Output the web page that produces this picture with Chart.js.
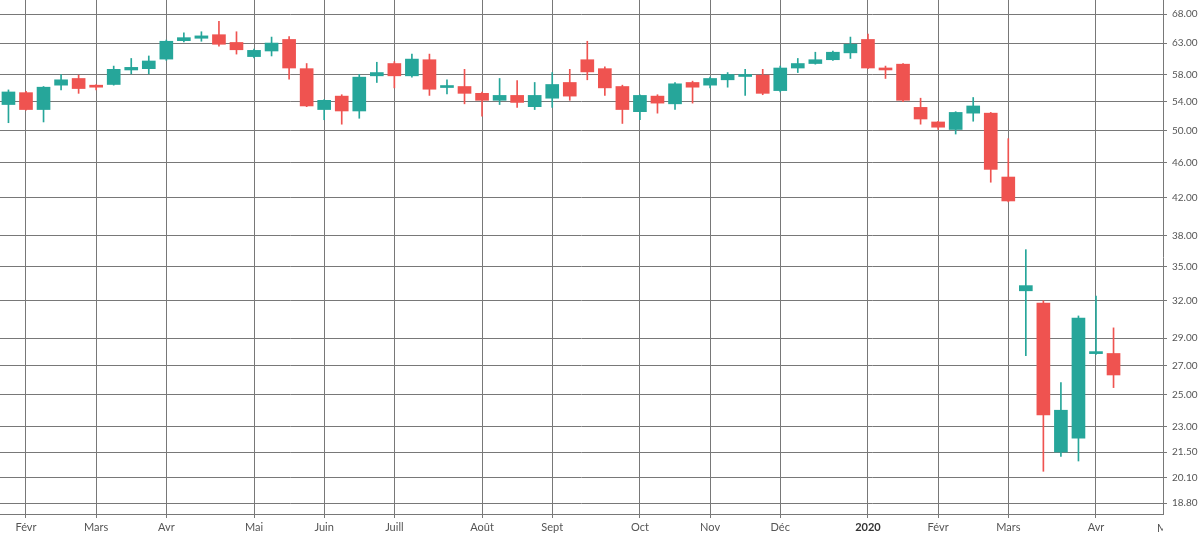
<!DOCTYPE html>
<html lang="fr">
<head>
<meta charset="utf-8">
<title>Cours hebdomadaire</title>
<script src="https://cdn.jsdelivr.net/npm/chart.js@4.4.1/dist/chart.umd.min.js"></script>
<style>
  html, body { margin: 0; padding: 0; background: #ffffff; }
  #wrap { width: 1200px; height: 536px; position: relative; }
</style>
</head>
<body>
<div id="wrap"><canvas id="chart"></canvas></div>
<script>
// Bougies hebdomadaires, semaine 0 = 28 janv. 2019, dernière = 13 avr. 2020.
const opens = [
  53.6, 55.3, 52.9, 56.4, 57.4, 56.3, 56.5, 58.7, 58.9, 60.4,
  63.4, 63.8, 64.4, 63.1, 60.8, 61.7, 63.6, 58.9, 52.9, 54.8,
  52.7, 57.8, 59.7, 57.8, 60.3, 56.05, 56.2, 55.2, 54.2, 54.9,
  53.3, 54.5, 56.8, 60.3, 58.9, 56.2, 52.6, 54.8, 53.7, 56.8,
  56.4, 57.2, 57.7, 57.9, 55.6, 59.0, 59.7, 60.3, 61.4, 63.6,
  58.9, 59.6, 53.2, 51.2, 50.2, 52.4, 52.4, 44.3, 32.85, 31.8,
  21.5, 22.3, 27.85, 27.86
];
const highs = [
  55.7, 55.5, 56.2, 58.0, 57.9, 56.5, 59.3, 60.5, 60.9, 63.5,
  64.7, 64.9, 66.7, 64.9, 62.0, 64.0, 64.1, 59.7, 54.3, 55.0,
  58.0, 59.9, 60.0, 61.2, 61.2, 57.2, 58.8, 55.4, 57.4, 57.1,
  56.8, 58.3, 58.8, 63.3, 59.2, 56.4, 55.0, 55.0, 56.8, 57.0,
  57.6, 58.3, 58.8, 58.8, 59.3, 60.5, 61.5, 61.7, 64.0, 64.5,
  59.3, 59.7, 54.5, 51.3, 52.6, 54.6, 52.5, 49.0, 36.6, 32.0,
  25.8, 30.75, 32.4, 29.8
];
const lows = [
  51.1, 52.8, 51.2, 55.7, 55.2, 55.7, 56.4, 58.1, 58.1, 60.2,
  63.2, 63.3, 62.5, 61.2, 60.6, 60.9, 57.3, 53.3, 51.5, 50.9,
  51.7, 56.8, 56.0, 57.6, 54.9, 55.1, 53.7, 52.0, 53.6, 53.2,
  52.9, 53.2, 54.2, 57.2, 54.9, 51.0, 51.5, 52.4, 52.9, 53.8,
  56.0, 56.1, 54.9, 55.0, 55.4, 58.3, 59.6, 60.2, 60.5, 58.9,
  57.4, 54.0, 50.9, 50.2, 49.6, 51.3, 43.7, 41.5, 27.7, 20.44,
  21.26, 21.0, 27.8, 25.47
];
const closes = [
  55.4, 52.9, 56.1, 57.2, 55.9, 56.1, 58.8, 59.1, 60.1, 63.3,
  63.9, 64.2, 62.8, 61.9, 61.8, 63.0, 59.0, 53.4, 54.2, 52.7,
  57.6, 58.3, 57.8, 60.4, 55.8, 56.15, 55.2, 54.2, 54.9, 53.9,
  54.9, 56.5, 54.8, 58.4, 56.0, 52.9, 54.9, 53.8, 56.6, 56.1,
  57.4, 58.0, 58.0, 55.2, 59.0, 59.7, 60.3, 61.5, 62.8, 59.0,
  58.7, 54.2, 51.6, 50.5, 52.5, 53.4, 45.2, 41.6, 33.3, 23.7,
  24.0, 30.57, 27.95, 26.33
];

// Première semaine de chaque mois (index de semaine) et son libellé.
const monthTicks = [1, 5, 9, 14, 18, 22, 27, 31, 36, 40, 44, 49, 53, 57, 62, 66];
const monthLabels = ['Févr', 'Mars', 'Avr', 'Mai', 'Juin', 'Juill', 'Août', 'Sept',
  'Oct', 'Nov', 'Déc', '2020', 'Févr', 'Mars', 'Avr', 'Mai'];

const priceTicks = [68, 63, 58, 54, 50, 46, 42, 38, 35, 32, 29, 27, 25, 23, 21.5, 20.1, 18.8];

const UP = '#26a69a';
const DOWN = '#ef5350';
const GRID = '#787878';
const TEXT = '#555555';
const FONT = 'Lato, "Open Sans", sans-serif';

const candleColors = opens.map((o, i) => (closes[i] >= o ? UP : DOWN));
const bodies = opens.map((o, i) => ({ x: i, y: [o, closes[i]] }));
const wicks = lows.map((l, i) => ({ x: i, y: [l, highs[i]] }));

const isYear = (label) => /^\d{4}$/.test(label);

// Le libellé « Mai » tombe juste derrière l'échelle de prix : on le dessine
// coupé au bord de la zone du graphique, comme sur l'original.
const clippedLastLabel = {
  id: 'clippedLastLabel',
  afterDraw(chart) {
    const xs = chart.scales.x;
    const last = monthTicks.length - 1;
    const px = xs.getPixelForValue(monthTicks[last]);
    const { ctx, chartArea } = chart;
    ctx.save();
    ctx.beginPath();
    ctx.rect(0, xs.top, chartArea.right, xs.height);
    ctx.clip();
    ctx.fillStyle = TEXT;
    ctx.font = '11px ' + FONT;
    ctx.textAlign = 'center';
    ctx.textBaseline = 'middle';
    ctx.fillText(monthLabels[last], px, xs.top + 14);
    ctx.restore();
  },
};

new Chart(document.getElementById('chart'), {
  type: 'bar',
  data: {
    datasets: [
      {
        data: bodies,
        backgroundColor: candleColors,
        borderWidth: 0,
        barThickness: 13,
        minBarLength: 2,
        grouped: false,
      },
      {
        data: wicks,
        backgroundColor: candleColors,
        borderWidth: 0,
        barThickness: 1,
        grouped: false,
      },
    ],
  },
  options: {
    responsive: true,
    maintainAspectRatio: false,
    animation: false,
    events: [],
    layout: { padding: 0 },
    plugins: {
      legend: { display: false },
      tooltip: { enabled: false },
    },
    scales: {
      x: {
        type: 'linear',
        offset: false,
        min: -0.482,
        max: 65.82,
        afterFit: (s) => {
          s.height = 22;
          s.paddingLeft = 0;
          s.paddingRight = 0;
        },
        afterBuildTicks: (axis) => {
          axis.ticks = monthTicks
            .filter((v) => v <= axis.max)
            .map((v) => ({ value: v }));
        },
        grid: { color: GRID, tickLength: 4, offset: false },
        border: { color: GRID },
        ticks: {
          autoSkip: false,
          maxRotation: 0,
          padding: 3,
          color: (ctx) => (isYear(ctx.tick && ctx.tick.label) ? '#333333' : TEXT),
          font: (ctx) => ({
            family: FONT,
            size: 11,
            weight: ctx.tick && isYear(monthLabels[monthTicks.indexOf(ctx.tick.value)]) ? 'bold' : 'normal',
          }),
          callback: (value) => monthLabels[monthTicks.indexOf(value)],
        },
      },
      y: {
        type: 'logarithmic',
        position: 'right',
        min: 18.27,
        max: 70.55,
        afterFit: (s) => {
          s.width = 37;
          s.paddingTop = 0;
          s.paddingBottom = 0;
        },
        afterBuildTicks: (axis) => {
          axis.ticks = priceTicks.map((v) => ({ value: v }));
        },
        grid: { color: GRID, tickLength: 4 },
        border: { color: GRID },
        ticks: {
          padding: 5,
          color: TEXT,
          font: { family: FONT, size: 10 },
          callback: (value) => Number(value).toFixed(2),
        },
      },
    },
  },
  plugins: [clippedLastLabel],
});
</script>
</body>
</html>
